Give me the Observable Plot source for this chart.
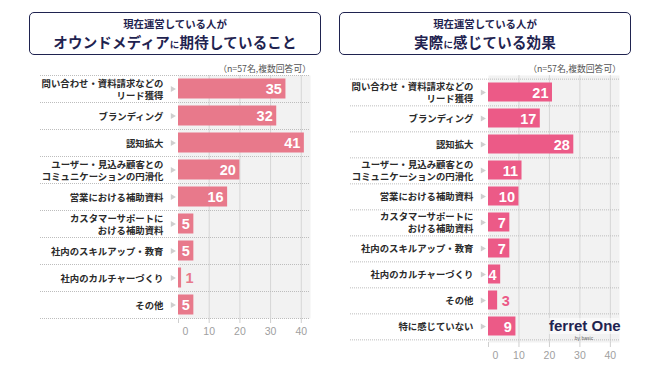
<!DOCTYPE html>
<html>
<head>
<meta charset="utf-8">
<script src="https://cdn.jsdelivr.net/npm/d3@7"></script>
<script src="https://cdn.jsdelivr.net/npm/@observablehq/plot@0.6"></script>
<style>
  html, body { margin: 0; padding: 0; background: #fff; }
  #root { position: relative; width: 661px; height: 371px; overflow: hidden;
    font-family: "Liberation Sans", "Noto Sans CJK JP", sans-serif; }
  .box { position: absolute; top: 12px; height: 41px; width: 290px; border: 1.6px solid #1f2350;
    border-radius: 5px; color: #1f2350; text-align: center; font-family: "Noto Sans CJK JP", sans-serif; font-weight: 700; }
  .l1 { position: absolute; left: 0; right: 0; top: 5px; font-size: 10.4px; line-height: 12px; }
  .l2 { position: absolute; left: 0; right: 0; top: 20px; font-size: 14.5px; line-height: 18px; letter-spacing: 0.2px; }
  .l2 small { font-size: 9.5px; }
  .note { position: absolute; top: 62px; font-size: 8.8px; color: #555; font-family: "Noto Sans CJK JP", sans-serif; text-align: right; width: 200px; white-space: nowrap; }
  .plot { position: absolute; top: 0; }
  .logo { position: absolute; left: 549px; top: 318px; width: 70px; text-align: center; color: #1f2350; white-space: nowrap; }
  .logo .a { font-family: "Liberation Sans Narrow", "Liberation Sans", sans-serif; font-weight: 700; font-size: 15px; line-height: 16px; background: rgba(255,255,255,0.55); }
  .logo .b { font-size: 5px; color: #666; line-height: 6px; margin-top: 1px; }
</style>
</head>
<body>
<div id="root">
  <div class="box" style="left:29px"><div class="l1">現在運営している人が</div><div class="l2">オウンドメディア<small>に</small>期待していること</div></div>
  <div class="box" style="left:339px"><div class="l1">現在運営している人が</div><div class="l2">実際<small>に</small>感じている効果</div></div>
  <div class="note" style="left:111px">（n=57名,複数回答可）</div>
  <div class="note" style="left:421px">（n=57名,複数回答可）</div>
  <div id="left" class="plot" style="left:0px"></div>
  <div id="right" class="plot" style="left:330px"></div>
  <div class="logo"><div class="a">ferret One</div><div class="b">by basic</div></div>
</div>
<script>
const leftCategories = [
  "問い合わせ・資料請求などの\nリード獲得",
  "ブランディング",
  "認知拡大",
  "ユーザー・見込み顧客との\nコミュニケーションの円滑化",
  "営業における補助資料",
  "カスタマーサポートに\nおける補助資料",
  "社内のスキルアップ・教育",
  "社内のカルチャーづくり",
  "その他"
];
const leftValues = [35, 32, 41, 20, 16, 5, 5, 1, 5];

const rightCategories = [
  "問い合わせ・資料請求などの\nリード獲得",
  "ブランディング",
  "認知拡大",
  "ユーザー・見込み顧客との\nコミュニケーションの円滑化",
  "営業における補助資料",
  "カスタマーサポートに\nおける補助資料",
  "社内のスキルアップ・教育",
  "社内のカルチャーづくり",
  "その他",
  "特に感じていない"
];
const rightValues = [21, 17, 28, 11, 10, 7, 7, 4, 3, 9];

const xTicks = [0, 10, 20, 30, 40];
const xMax = 43;

const JP = "Noto Sans CJK JP, sans-serif";
const NUM = "Liberation Sans, Arial, sans-serif";

function panel({cats, vals, color, width, height, marginLeft, marginRight, marginTop, marginBottom, sepLeftPx}) {
  const data = cats.map((c, i) => ({cat: c, v: vals[i]}));
  const bw = (height - marginTop - marginBottom) / cats.length;
  const k = (width - marginLeft - marginRight) / xMax;
  const sepX1 = (sepLeftPx - marginLeft) / k;
  const inside = data.filter(d => d.v > 3);
  const outside = data.filter(d => d.v <= 3);
  return Plot.plot({
    width, height, marginLeft, marginRight, marginTop, marginBottom,
    style: {background: "transparent", overflow: "visible", fontFamily: NUM},
    x: {domain: [0, xMax]},
    y: {domain: cats, padding: 0, axis: null},
    marks: [
      Plot.frame({fill: "#f2f2f2", stroke: null}),
      Plot.ruleX([10, 20, 30, 40], {stroke: "#d6d6d6", strokeWidth: 1}),
      Plot.ruleY(cats, {y: d => d, dy: bw / 2, x1: sepX1, x2: xMax, stroke: "#bdbdbd", strokeDasharray: "1,1"}),
      Plot.ruleY([cats[0]], {y: d => d, dy: -bw / 2, x1: sepX1, x2: xMax, stroke: "#bdbdbd", strokeDasharray: "1,1"}),
      Plot.axisX({ticks: xTicks, tickSize: 5, tickPadding: 4, stroke: "#cfcfcf", fill: "#a0a0a0",
        fontSize: 10.5, fontFamily: NUM, tickFormat: d => d === 0 ? "" : d, label: null}),
      Plot.axisX({ticks: [0], tickSize: 0, tickPadding: 9, dx: 7, fill: "#a0a0a0", fontSize: 10.5, fontFamily: NUM, label: null}),
      Plot.barX(data, {x: "v", y: "cat", fill: color, insetTop: 3.5, insetBottom: 3.5}),
      Plot.text(inside, {x: "v", y: "cat", text: d => String(d.v), textAnchor: "end", dx: -4, dy: 0.5,
        fill: "white", fontSize: 14.5, fontWeight: "bold", fontFamily: NUM}),
      Plot.text(outside, {x: "v", y: "cat", text: d => String(d.v), textAnchor: "start", dx: 4, dy: 0.5,
        fill: color, fontSize: 14.5, fontWeight: "bold", fontFamily: NUM}),
      Plot.text(data, {x: d => 0, y: "cat", text: "cat", textAnchor: "end", dx: -15, lineHeight: 1.25,
        fill: "#2a2a2a", fontSize: 9.4, fontWeight: "bold", fontFamily: JP}),
      Plot.dot(data, {x: d => 0, y: "cat", dx: -6, symbol: "triangle", rotate: 90, r: 2.2, fill: "#cfcfcf", stroke: null})
    ]
  });
}

document.getElementById("left").append(panel({
  cats: leftCategories, vals: leftValues, color: "#e8798b",
  width: 330, height: 371, marginLeft: 178, marginRight: 20, marginTop: 75, marginBottom: 53, sepLeftPx: 40
}));
document.getElementById("right").append(panel({
  cats: rightCategories, vals: rightValues, color: "#ec5a87",
  width: 331, height: 371, marginLeft: 158, marginRight: 42, marginTop: 75, marginBottom: 29, sepLeftPx: 20
}));
</script>
</body>
</html>
